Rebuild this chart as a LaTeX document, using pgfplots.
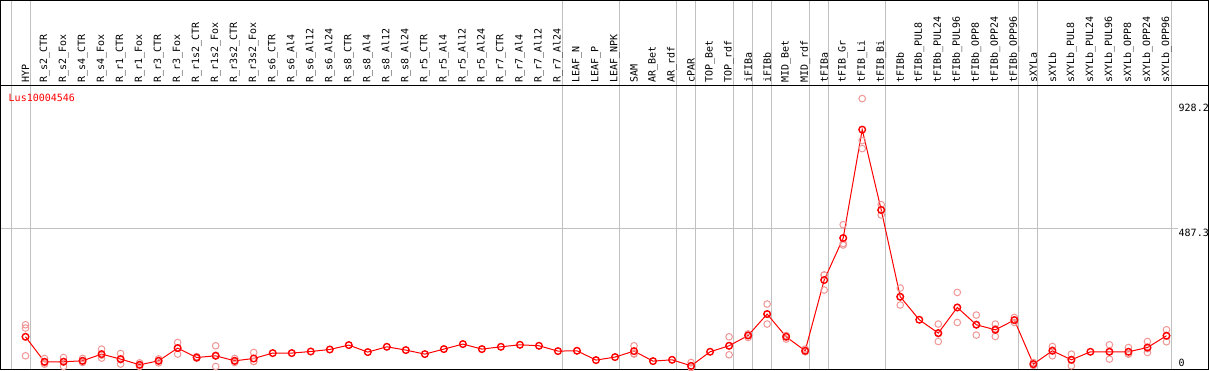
\documentclass[border=0pt]{standalone}
\usepackage{fontspec}
\setmainfont{DejaVu Sans Mono}
\usepackage{pgfplots}
\pgfplotsset{compat=1.18}
\definecolor{gridgray}{RGB}{192,192,192}
\definecolor{reppink}{RGB}{240,150,150}
\begin{document}
\begin{tikzpicture}
\begin{axis}[
 scale only axis, width=1207pt, height=284pt,
 xmin=-1.3158, xmax=62.2105, ymin=-10.6, ymax=992.2,
 clip=false, axis on top,
 axis line style={black, line width=1pt},
 xtick={0,...,60},
 xticklabels={HYP,R\_s2\_CTR,R\_s2\_Fox,R\_s4\_CTR,R\_s4\_Fox,R\_r1\_CTR,R\_r1\_Fox,R\_r3\_CTR,R\_r3\_Fox,R\_r1s2\_CTR,R\_r1s2\_Fox,R\_r3s2\_CTR,R\_r3s2\_Fox,R\_s6\_CTR,R\_s6\_Al4,R\_s6\_Al12,R\_s6\_Al24,R\_s8\_CTR,R\_s8\_Al4,R\_s8\_Al12,R\_s8\_Al24,R\_r5\_CTR,R\_r5\_Al4,R\_r5\_Al12,R\_r5\_Al24,R\_r7\_CTR,R\_r7\_Al4,R\_r7\_Al12,R\_r7\_Al24,LEAF\_N,LEAF\_P,LEAF\_NPK,SAM,AR\_Bet,AR\_rdf,cPAR,TOP\_Bet,TOP\_rdf,iFIBa,iFIBb,MID\_Bet,MID\_rdf,tFIBa,tFIB\_Gr,tFIB\_Li,tFIB\_Bi,tFIBb,tFIBb\_PUL8,tFIBb\_PUL24,tFIBb\_PUL96,tFIBb\_OPP8,tFIBb\_OPP24,tFIBb\_OPP96,sXYLa,sXYLb,sXYLb\_PUL8,sXYLb\_PUL24,sXYLb\_PUL96,sXYLb\_OPP8,sXYLb\_OPP24,sXYLb\_OPP96},
 xticklabel pos=upper,
 xticklabel style={rotate=90, anchor=west, inner sep=0pt, inner xsep=3pt},
 ytick={487.3,928.2}, yticklabels={487.3,928.2},
 yticklabel pos=right,
 yticklabel style={anchor=west, inner sep=0pt, xshift=-30pt, yshift=-4pt},
 extra y ticks={0}, extra y tick labels={0},
 extra y tick style={yticklabel style={yshift=8pt}},
 major tick length=0pt,
 tick style={draw=none},
]
% separators
\pgfplotsinvokeforeach{-0.76,0.24,28.24,31.24,34.24,35.24,37.24,38.24,39.24,41.24,42.24,45.24,52.24,53.24,60.24}{
 \draw[gridgray, line width=1pt] (axis cs:#1,-10.6) -- (axis cs:#1,1292.3);
}
\draw[gridgray, line width=1pt] (axis cs:-1.3158,487.3) -- (axis cs:60.63,487.3);
\draw[black, line width=1pt] (axis cs:-1.3158,992.2) -- (axis cs:-1.3158,1292.3) -- (axis cs:62.2105,1292.3) -- (axis cs:62.2105,992.2);
% replicates
\addplot[only marks, mark=o, mark size=3.3pt, mark options={draw=reppink, line width=1pt}] table {
x y
0 148.3
0 136.7
0 38.8
1 29.3
1 9.5
1 14.0
2 32.8
2 1.1
2 19.0
3 29.3
3 15.2
3 19.0
4 62.5
4 30.7
4 41.0
5 47.0
5 9.5
5 25.0
6 1.1
6 14.0
6 6.0
7 28.0
7 14.0
7 21.0
8 85.8
8 44.8
8 67.0
9 30.0
9 36.0
9 32.0
10 74.2
10 1.1
10 41.0
11 29.3
11 15.2
11 19.0
12 50.5
12 18.7
12 19.0
32 74.2
32 44.8
32 47.0
35 15.2
35 0.0
35 -3.0
37 105.9
37 42.4
37 74.0
38 103.5
38 112.0
38 116.0
39 221.4
39 150.8
39 186.0
40 109.5
40 97.8
40 110.0
41 62.5
41 53.0
41 54.0
42 323.8
42 270.8
42 323.7
43 501.4
43 429.7
43 435.4
44 946.3
44 798.0
44 769.8
45 572.0
45 535.7
45 552.0
46 277.9
46 217.9
46 246.0
48 150.8
48 89.3
48 117.0
49 262.4
49 156.4
49 209.0
50 182.6
50 111.9
50 150.0
51 150.8
51 107.0
51 134.0
52 174.1
52 156.4
52 164.0
53 15.2
53 8.0
53 5.0
54 71.7
54 38.8
54 59.0
55 44.8
55 3.5
55 26.0
57 77.7
57 27.2
57 54.0
58 68.1
58 44.8
58 46.0
59 89.3
59 50.5
59 64.0
60 130.6
60 88.3
60 110.0
};
% means
\addplot[red, line width=1pt, mark=o, mark size=3.3pt, mark options={line width=1.4pt}] coordinates {
(0,105.9) (1,17.7) (2,17.7) (3,21.2) (4,44.8) (5,27.2) (6,7.1) (7,21.2) (8,66.0) (9,32.8)
(10,38.8) (11,21.2) (12,29.3) (13,48.4) (14,48.4) (15,54.0) (16,61.1) (17,76.6) (18,51.9) (19,70.6)
(20,59.0) (21,44.8) (22,62.5) (23,80.2) (24,62.5) (25,70.6) (26,77.7) (27,74.2) (28,55.4) (29,56.5)
(30,23.7) (31,34.3) (32,55.4) (33,20.1) (34,24.7) (35,3.5) (36,53.0) (37,74.2) (38,110.5) (39,186.1)
(40,105.9) (41,56.5) (42,306.1) (43,454.4) (44,836.8) (45,553.3) (46,247.2) (47,166.0) (48,119.0) (49,209.4)
(50,148.3) (51,130.6) (52,164.9) (53,9.5) (54,56.5) (55,24.7) (56,53.0) (57,53.0) (58,53.0) (59,68.1)
(60,109.5)
};
\node[anchor=west, text=red, inner sep=0pt] at (axis cs:-0.895,949.8) {Lus10004546};
\coordinate (BL) at (axis cs:-1.3158,-10.6);
\coordinate (TR) at (axis cs:62.2105,1292.3);
\end{axis}
\pgfresetboundingbox
\path[use as bounding box] ([shift={(-0.5pt,-0.5pt)}]BL) rectangle ([shift={(0.5pt,0.5pt)}]TR);
\end{tikzpicture}
\end{document}
